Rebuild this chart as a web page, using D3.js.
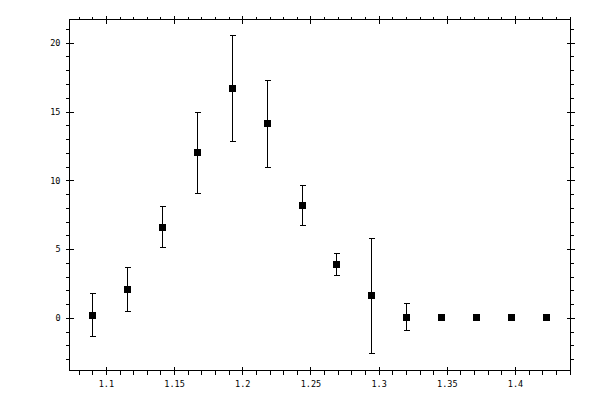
<!DOCTYPE html>
<html>
<head>
<meta charset="utf-8">
<script src="https://cdn.jsdelivr.net/npm/d3@7"></script>
<style>
  body { margin: 0; background: #fff; }
  .axis text { font-family: "DejaVu Sans Mono", monospace; font-size: 8.5px; fill: #000; }
  .axis line { stroke: #000; stroke-width: 1px; shape-rendering: crispEdges; }
  .axis path.domain { display: none; }
</style>
</head>
<body>
<div id="chart-area"></div>
<script>
// data
var xVals = [1.0902, 1.1158, 1.1415, 1.1672, 1.1928, 1.2185, 1.2441, 1.2691, 1.2947, 1.3204, 1.3460, 1.3717, 1.3974, 1.4230];
var yVals = [0.2, 2.05, 6.6, 12.0, 16.65, 14.1, 8.15, 3.85, 1.6, 0.05, 0, 0, 0, 0];
var yErrs = [1.55, 1.6, 1.5, 2.95, 3.85, 3.15, 1.45, 0.8, 4.2, 1.0, 0, 0, 0, 0];

var xMajor = [1.1, 1.15, 1.2, 1.25, 1.3, 1.35, 1.4];
var xMinor = d3.range(108, 145).map(function(d){ return d / 100; });
var yMajor = [0, 5, 10, 15, 20];
var yMinor = d3.range(-3, 22);

var margin = { left: 69.5, right: 29.5, top: 19.5, bottom: 29.5 },
    width = 600 - margin.left - margin.right,
    height = 400 - margin.top - margin.bottom;

var svg = d3.select("#chart-area")
    .append("svg")
    .attr("width", 600)
    .attr("height", 400);

var g = svg.append("g")
    .attr("transform", "translate(" + margin.left + ", " + margin.top + ")");

// Scales
var x = d3.scaleLinear().domain([1.0733, 1.4407]).range([0, width]);
var y = d3.scaleLinear().domain([-3.83, 21.69]).range([height, 0]);

// Bottom: minor ticks point out, major ticks cross the frame
g.append("g").attr("class", "axis")
    .attr("transform", "translate(0," + height + ")")
    .call(d3.axisBottom(x).tickValues(xMinor).tickSize(4).tickFormat(""));
g.append("g").attr("class", "axis")
    .attr("transform", "translate(0," + height + ")")
    .call(d3.axisBottom(x).tickValues(xMajor).tickSize(4).tickPadding(6).tickFormat(d3.format("")));
g.append("g").attr("class", "axis")
    .attr("transform", "translate(0," + height + ")")
    .call(d3.axisBottom(x).tickValues(xMajor).tickSize(-4).tickFormat(""));

// Top
g.append("g").attr("class", "axis")
    .call(d3.axisTop(x).tickValues(xMinor).tickSize(3).tickFormat(""));
g.append("g").attr("class", "axis")
    .call(d3.axisTop(x).tickValues(xMajor).tickSize(4).tickFormat(""));
g.append("g").attr("class", "axis")
    .call(d3.axisTop(x).tickValues(xMajor).tickSize(-4).tickFormat(""));

// Left
g.append("g").attr("class", "axis")
    .call(d3.axisLeft(y).tickValues(yMinor).tickSize(4).tickFormat(""));
g.append("g").attr("class", "axis")
    .call(d3.axisLeft(y).tickValues(yMajor).tickSize(4).tickPadding(5));
g.append("g").attr("class", "axis")
    .call(d3.axisLeft(y).tickValues(yMajor).tickSize(-4).tickFormat(""));

// Right
g.append("g").attr("class", "axis")
    .attr("transform", "translate(" + width + ",0)")
    .call(d3.axisRight(y).tickValues(yMinor).tickSize(3).tickFormat(""));
g.append("g").attr("class", "axis")
    .attr("transform", "translate(" + width + ",0)")
    .call(d3.axisRight(y).tickValues(yMajor).tickSize(4).tickFormat(""));
g.append("g").attr("class", "axis")
    .attr("transform", "translate(" + width + ",0)")
    .call(d3.axisRight(y).tickValues(yMajor).tickSize(-4).tickFormat(""));

// Frame
g.append("rect")
    .attr("width", width)
    .attr("height", height)
    .attr("fill", "none")
    .attr("stroke", "#000")
    .attr("shape-rendering", "crispEdges");

var data = xVals.map(function(d, i){ return { x: d, y: yVals[i], e: yErrs[i] }; });
var withErr = data.filter(function(d){ return d.e > 0; });

// Error bars
var eb = g.append("g").attr("stroke", "#000").attr("stroke-width", 1).attr("shape-rendering", "crispEdges");
eb.selectAll(".v").data(withErr).enter().append("line")
    .attr("x1", function(d){ return Math.round(x(d.x)); })
    .attr("x2", function(d){ return Math.round(x(d.x)); })
    .attr("y1", function(d){ return Math.round(y(d.y - d.e)); })
    .attr("y2", function(d){ return Math.round(y(d.y + d.e)); });
eb.selectAll(".t").data(withErr).enter().append("line")
    .attr("x1", function(d){ return Math.round(x(d.x)) - 3; })
    .attr("x2", function(d){ return Math.round(x(d.x)) + 3; })
    .attr("y1", function(d){ return Math.round(y(d.y + d.e)); })
    .attr("y2", function(d){ return Math.round(y(d.y + d.e)); });
eb.selectAll(".b").data(withErr).enter().append("line")
    .attr("x1", function(d){ return Math.round(x(d.x)) - 3; })
    .attr("x2", function(d){ return Math.round(x(d.x)) + 3; })
    .attr("y1", function(d){ return Math.round(y(d.y - d.e)); })
    .attr("y2", function(d){ return Math.round(y(d.y - d.e)); });

// Markers
g.selectAll(".pt").data(data).enter().append("rect")
    .attr("x", function(d){ return Math.round(x(d.x)) - 3.5; })
    .attr("y", function(d){ return Math.round(y(d.y)) - 3.5; })
    .attr("width", 7)
    .attr("height", 7)
    .attr("fill", "#000");
</script>
</body>
</html>
